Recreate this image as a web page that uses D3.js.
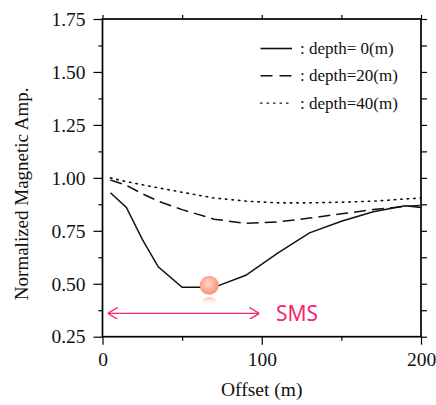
<!DOCTYPE html>
<html>
<head>
<meta charset="utf-8">
<script src="https://cdn.jsdelivr.net/npm/d3@7"></script>
<style>
  body { margin: 0; background: #fff; }
  svg text { font-family: "Liberation Serif", "Times New Roman", serif; }
</style>
</head>
<body>
<div id="chart"></div>
<script>

// offsets (m) and normalized amplitude
var offset0  = [5, 15, 25, 35, 50, 70, 90, 110, 130, 150, 170, 190, 200];
var depth0   = [0.93, 0.86, 0.71, 0.58, 0.483, 0.483, 0.54, 0.645, 0.74, 0.795, 0.84, 0.868, 0.86];
var offset20 = [5, 15, 25, 35, 50, 70, 90, 110, 130, 150, 170, 190, 200];
var depth20  = [0.99, 0.965, 0.925, 0.89, 0.85, 0.805, 0.785, 0.792, 0.81, 0.83, 0.85, 0.865, 0.87];
var offset40 = [5, 15, 30, 50, 70, 90, 110, 130, 150, 170, 190, 200];
var depth40  = [1.0, 0.982, 0.96, 0.932, 0.905, 0.89, 0.882, 0.882, 0.885, 0.89, 0.9, 0.905];

var legendLabels = [": depth= 0(m)", ": depth=20(m)", ": depth=40(m)"];
var dashes = [null, "12,6", "1.5,5"];

var xTicks = [0, 100, 200];
var xMinor = [50, 150];
var yTicks = [0.25, 0.5, 0.75, 1.0, 1.25, 1.5, 1.75];
var yMinor = [0.375, 0.625, 0.875, 1.125, 1.375, 1.625];

// SMS annotation (offset range and level) and the marker
var smsRange = [3.3, 98.5];
var smsLevel = 0.36;
var marker = [67, 0.488];

var W = 436, H = 405;
var m = {left: 102.5, right: 15, top: 19, bottom: 68.3};

var svg = d3.select("#chart").append("svg")
    .attr("width", W).attr("height", H);

var x = d3.scaleLinear().domain([0, 200]).range([m.left, W - m.right]);
var y = d3.scaleLinear().domain([0.25, 1.75]).range([H - m.bottom, m.top]);

var defs = svg.append("defs");
var grad = defs.append("radialGradient").attr("id", "ball")
    .attr("cx", "45%").attr("cy", "40%").attr("r", "60%");
grad.append("stop").attr("offset", "0%").attr("stop-color", "#ffd9cc");
grad.append("stop").attr("offset", "60%").attr("stop-color", "#fdab96");
grad.append("stop").attr("offset", "100%").attr("stop-color", "#f7907a");
var grad2 = defs.append("linearGradient").attr("id", "refl")
    .attr("x1", 0).attr("y1", 0).attr("x2", 0).attr("y2", 1);
grad2.append("stop").attr("offset", "0%").attr("stop-color", "#fcc0b0");
grad2.append("stop").attr("offset", "100%").attr("stop-color", "#fff").attr("stop-opacity", 0);
defs.append("marker").attr("id", "arrow")
    .attr("viewBox", "0 0 10 12").attr("refX", 10).attr("refY", 6)
    .attr("markerWidth", 10).attr("markerHeight", 12)
    .attr("markerUnits", "userSpaceOnUse")
    .attr("orient", "auto-start-reverse")
  .append("path").attr("d", "M0,0 L10,6 L0,12")
    .attr("fill", "none").attr("stroke", "#f5246f").attr("stroke-width", 1.3);

// axes
function styleAxis(g) {
  g.select(".domain").remove();
  g.selectAll("line").attr("stroke", "#000").attr("stroke-width", 1.2);
  g.selectAll("text").attr("font-size", "19.5px").attr("fill", "#111")
    .style("font-family", "Liberation Serif, serif");
}

svg.append("g").attr("transform", "translate(" + m.left + ",0)")
  .call(d3.axisLeft(y).tickValues(yTicks).tickSize(9).tickPadding(8)
    .tickFormat(d3.format(".2f")))
  .call(styleAxis);
svg.append("g").attr("transform", "translate(" + m.left + ",0)")
  .call(d3.axisLeft(y).tickValues(yMinor).tickSize(4).tickFormat(""))
  .call(styleAxis);
svg.append("g").attr("transform", "translate(" + (W - m.right) + ",0)")
  .call(d3.axisRight(y).tickValues(yTicks.concat(yMinor)).tickSize(6).tickFormat(""))
  .call(styleAxis);
svg.append("g").attr("transform", "translate(0," + (H - m.bottom) + ")")
  .call(d3.axisBottom(x).tickValues(xTicks).tickSize(8).tickPadding(7)
    .tickFormat(d3.format("d")))
  .call(styleAxis);
svg.append("g").attr("transform", "translate(0," + (H - m.bottom) + ")")
  .call(d3.axisBottom(x).tickValues(xMinor).tickSize(4).tickFormat(""))
  .call(styleAxis);
svg.append("g").attr("transform", "translate(0," + m.top + ")")
  .call(d3.axisTop(x).tickValues(xTicks.concat(xMinor)).tickSize(4).tickFormat(""))
  .call(styleAxis);

// frame
svg.append("rect")
  .attr("x", x(0)).attr("y", y(1.75))
  .attr("width", x(200) - x(0)).attr("height", y(0.25) - y(1.75))
  .attr("fill", "none").attr("stroke", "#000").attr("stroke-width", 1.7);

// axis titles
svg.append("text")
  .attr("x", (x(0) + x(200)) / 2).attr("y", 396)
  .attr("text-anchor", "middle").attr("font-size", "19.5px").attr("fill", "#111")
  .text("Offset (m)");
svg.append("text")
  .attr("transform", "translate(28," + (y(1.0) + 16) + ") rotate(-90)")
  .attr("text-anchor", "middle").attr("font-size", "19px").attr("fill", "#111")
  .text("Normalized Magnetic Amp.");

// curves
var line = d3.line().x(function (d) { return x(d[0]); }).y(function (d) { return y(d[1]); });
var series = [d3.zip(offset0, depth0), d3.zip(offset20, depth20), d3.zip(offset40, depth40)];

svg.selectAll(".curve").data(series).enter().append("path")
  .attr("class", "curve")
  .attr("d", line)
  .attr("fill", "none").attr("stroke", "#111")
  .attr("stroke-width", function (d, i) { return i == 2 ? 1.6 : 1.5; })
  .attr("stroke-linecap", function (d, i) { return i == 2 ? "round" : "butt"; })
  .attr("stroke-dasharray", function (d, i) { return dashes[i]; });

// legend
var lg = svg.append("g");
legendLabels.forEach(function (t, i) {
  var ly = 48.5 + i * 27.3;
  lg.append("line")
    .attr("x1", 260.5).attr("x2", 292).attr("y1", ly).attr("y2", ly)
    .attr("stroke", "#111").attr("stroke-width", i == 2 ? 1.4 : 1.6)
    .attr("stroke-linecap", i == 2 ? "round" : "butt")
    .attr("stroke-dasharray", i == 1 ? "12,7" : dashes[i]);
  lg.append("text")
    .attr("x", 300).attr("y", ly + 5.5)
    .attr("font-size", "17px").attr("fill", "#111")
    .text(t);
});

// marker on the curve
svg.append("ellipse")
  .attr("cx", x(marker[0])).attr("cy", y(marker[1]) + 15)
  .attr("rx", 7).attr("ry", 4)
  .attr("fill", "url(#refl)");
svg.append("circle")
  .attr("cx", x(marker[0])).attr("cy", y(marker[1]) - 1)
  .attr("r", 9.5)
  .attr("fill", "url(#ball)");

// SMS arrow
svg.append("line")
  .attr("x1", x(smsRange[0])).attr("x2", x(smsRange[1]))
  .attr("y1", y(smsLevel)).attr("y2", y(smsLevel))
  .attr("stroke", "#f5246f").attr("stroke-width", 1.3)
  .attr("marker-start", "url(#arrow)").attr("marker-end", "url(#arrow)");
svg.append("text")
  .attr("x", 276).attr("y", y(smsLevel) + 8)
  .attr("font-size", "21px").attr("fill", "#f5246f")
  .style("font-family", "Noto Sans, sans-serif")
  .text("SMS");

</script>
</body>
</html>
